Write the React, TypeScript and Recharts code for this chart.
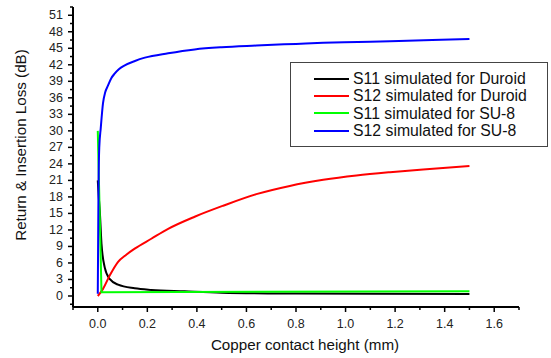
import { LineChart, Line, XAxis, YAxis, Legend } from 'recharts';

const seriesNames = [
  'S11 simulated for Duroid',
  'S12 simulated for Duroid',
  'S11 simulated for SU-8',
  'S12 simulated for SU-8',
];
const seriesColors = ['#000000', '#ff0000', '#00ff00', '#0000ff'];

const s11Duroid = [
  { x: 0, y: 21 },
  { x: 0.004, y: 18 },
  { x: 0.008, y: 15.5 },
  { x: 0.015, y: 9.5 },
  { x: 0.028, y: 5.2 },
  { x: 0.048, y: 3.1 },
  { x: 0.082, y: 2.05 },
  { x: 0.149, y: 1.4 },
  { x: 0.216, y: 1.1 },
  { x: 0.35, y: 0.85 },
  { x: 0.5, y: 0.6 },
  { x: 0.8, y: 0.45 },
  { x: 1.1, y: 0.4 },
  { x: 1.5, y: 0.35 },
];

const s12Duroid = [
  { x: 0, y: 0 },
  { x: 0.02, y: 1.2 },
  { x: 0.048, y: 3.7 },
  { x: 0.082, y: 6.2 },
  { x: 0.115, y: 7.5 },
  { x: 0.149, y: 8.6 },
  { x: 0.216, y: 10.4 },
  { x: 0.284, y: 12.2 },
  { x: 0.391, y: 14.4 },
  { x: 0.506, y: 16.4 },
  { x: 0.64, y: 18.5 },
  { x: 0.775, y: 20.0 },
  { x: 0.91, y: 21.1 },
  { x: 1.044, y: 21.9 },
  { x: 1.179, y: 22.5 },
  { x: 1.313, y: 23.0 },
  { x: 1.5, y: 23.6 },
];

const s11Su8 = [
  { x: 0, y: 30 },
  { x: 0.015, y: 0.7 },
  { x: 1.5, y: 0.85 },
];

const s12Su8 = [
  { x: 0, y: 0.4 },
  { x: 0.003, y: 20 },
  { x: 0.006, y: 27 },
  { x: 0.012, y: 30.5 },
  { x: 0.021, y: 35 },
  { x: 0.03, y: 37 },
  { x: 0.041, y: 38.2 },
  { x: 0.055, y: 39.6 },
  { x: 0.068, y: 40.4 },
  { x: 0.085, y: 41.2 },
  { x: 0.109, y: 41.9 },
  { x: 0.15, y: 42.7 },
  { x: 0.19, y: 43.3 },
  { x: 0.284, y: 44.1 },
  { x: 0.391, y: 44.8 },
  { x: 0.5, y: 45.2 },
  { x: 0.64, y: 45.5 },
  { x: 0.8, y: 45.8 },
  { x: 0.91, y: 46.0 },
  { x: 1.05, y: 46.15 },
  { x: 1.179, y: 46.3 },
  { x: 1.35, y: 46.5 },
  { x: 1.5, y: 46.7 },
];

const seriesData = [s11Duroid, s12Duroid, s11Su8, s12Su8];
const seriesCurve = ['monotone', 'monotone', 'linear', 'monotone'] as const;

const xMajorTicks = [0, 0.2, 0.4, 0.6, 0.8, 1.0, 1.2, 1.4, 1.6];
const xMinorTicks = [-0.1, 0.1, 0.3, 0.5, 0.7, 0.9, 1.1, 1.3, 1.5, 1.7];
const yMajorTicks = [0, 3, 6, 9, 12, 15, 18, 21, 24, 27, 30, 33, 36, 39, 42, 45, 48, 51];
const yMinorTicks = [
  -1.5, 1.5, 4.5, 7.5, 10.5, 13.5, 16.5, 19.5, 22.5, 25.5, 28.5, 31.5, 34.5, 37.5, 40.5,
  43.5, 46.5, 49.5, 52.5,
];

const FONT = '"Liberation Sans", Arial, sans-serif';

const XTick = (props: any) => {
  const { x, y, payload } = props;
  const v = payload.value;
  const major = xMajorTicks.some((t) => Math.abs(t - v) < 1e-9);
  return (
    <g>
      <line x1={x} x2={x} y1={y} y2={y + (major ? 5 : 3)} stroke="#000" strokeWidth={1.5} />
      {major && (
        <text x={x} y={y + 21} textAnchor="middle" fontSize={12.5} fontFamily={FONT} fill="#222">
          {v.toFixed(1)}
        </text>
      )}
    </g>
  );
};

const YTick = (props: any) => {
  const { x, y, payload } = props;
  const v = payload.value;
  const major = yMajorTicks.includes(v);
  return (
    <g>
      <line x1={x - (major ? 5 : 3)} x2={x} y1={y} y2={y} stroke="#000" strokeWidth={1.5} />
      {major && (
        <text x={x - 10} y={y + 4} textAnchor="end" fontSize={12.5} fontFamily={FONT} fill="#222">
          {v}
        </text>
      )}
    </g>
  );
};

const LegendBox = () => (
  <div
    style={{
      border: '1px solid #444',
      background: '#fff',
      width: 258,
      height: 85,
      boxSizing: 'border-box',
      padding: '7px 0 0 23px',
      fontFamily: FONT,
      fontSize: 15.8,
      color: '#111',
      lineHeight: 1,
    }}
  >
    {seriesNames.map((name, i) => (
      <div key={name} style={{ display: 'flex', alignItems: 'center', height: 17.4 }}>
        <span
          style={{
            display: 'inline-block',
            width: 35,
            height: 2,
            background: seriesColors[i],
            marginRight: 4,
          }}
        />
        <span>{name}</span>
      </div>
    ))}
  </div>
);

export default function App() {
  return (
    <div style={{ position: 'absolute', left: 0, top: 0, width: 551, height: 358, background: '#fff' }}>
      <LineChart width={551} height={358} margin={{ top: 7, right: 32, left: 0, bottom: 0 }}>
        <XAxis
          dataKey="x"
          type="number"
          domain={[-0.1, 1.7]}
          ticks={[...xMinorTicks, ...xMajorTicks].sort((a, b) => a - b)}
          interval={0}
          tickSize={0}
          tickMargin={0}
          tick={<XTick />}
          tickLine={false}
          axisLine={{ stroke: '#000', strokeWidth: 2 }}
          height={51}
          label={{
            content: (p: any) => (
              <text
                x={p.viewBox.x + p.viewBox.width / 2 + 9}
                y={p.viewBox.y + 43}
                textAnchor="middle"
                fontSize={15.2}
                fontFamily={FONT}
                fill="#111"
              >
                Copper contact height (mm)
              </text>
            ),
          }}
        />
        <YAxis
          type="number"
          domain={[-2, 52.5]}
          ticks={[...yMinorTicks, ...yMajorTicks].sort((a, b) => a - b)}
          interval={0}
          tickSize={0}
          tickMargin={0}
          tick={<YTick />}
          tickLine={false}
          axisLine={{ stroke: '#000', strokeWidth: 2 }}
          width={73}
          label={{
            content: (p: any) => {
              const cx = 20;
              const cy = p.viewBox.y + p.viewBox.height / 2 - 12;
              return (
                <text
                  x={cx}
                  y={cy}
                  transform={`rotate(-90 ${cx} ${cy})`}
                  textAnchor="middle"
                  dominantBaseline="central"
                  fontSize={15.2}
                  fontFamily={FONT}
                  fill="#111"
                >
                  Return &amp; Insertion Loss (dB)
                </text>
              );
            },
          }}
        />
        <Legend
          layout="vertical"
          align="center"
          verticalAlign="middle"
          content={<LegendBox />}
          wrapperStyle={{ position: 'absolute', left: 290, top: 62, width: 258, height: 85 }}
        />
        {seriesData.map((d, i) => (
          <Line
            key={seriesNames[i]}
            data={d}
            dataKey="y"
            name={seriesNames[i]}
            type={seriesCurve[i]}
            stroke={seriesColors[i]}
            strokeWidth={2}
            dot={false}
            activeDot={false}
            isAnimationActive={false}
          />
        ))}
      </LineChart>
    </div>
  );
}
